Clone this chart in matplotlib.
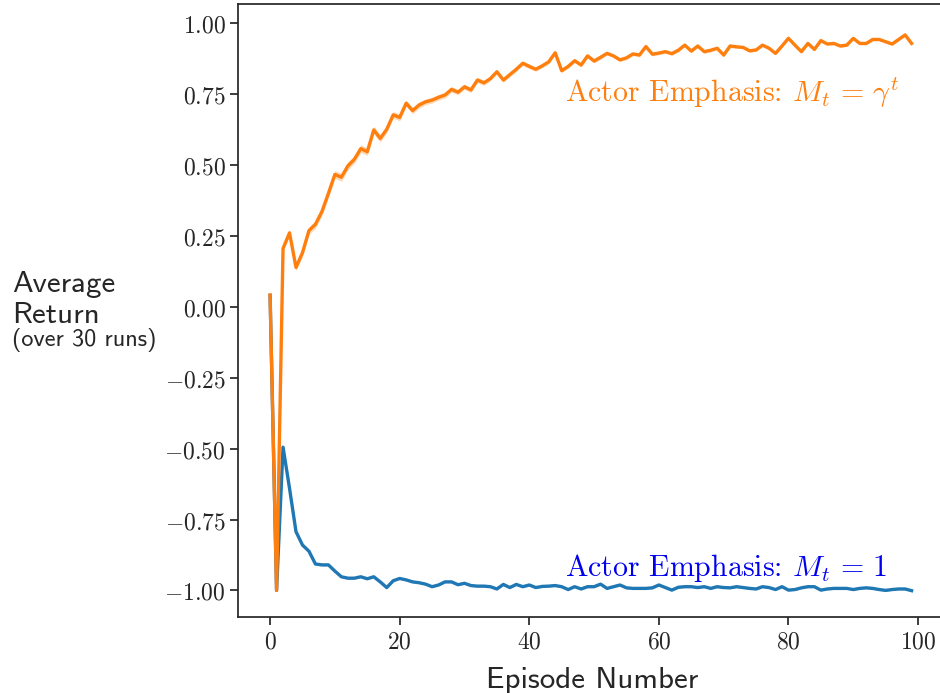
import numpy as np
import matplotlib
matplotlib.use("Agg")
import matplotlib.pyplot as plt
from matplotlib.ticker import FuncFormatter

# mean return per episode, averaged over 30 runs
episodes = list(range(100))

gamma_t = [
    0.042, -1.000, 0.206, 0.261, 0.139, 0.191, 0.269, 0.291, 0.336, 0.400,
    0.467, 0.457, 0.497, 0.520, 0.558, 0.547, 0.624, 0.594, 0.626, 0.677,
    0.668, 0.718, 0.692, 0.712, 0.723, 0.729, 0.739, 0.747, 0.767, 0.757,
    0.776, 0.765, 0.800, 0.790, 0.805, 0.829, 0.800, 0.819, 0.838, 0.859,
    0.848, 0.838, 0.850, 0.864, 0.896, 0.833, 0.848, 0.868, 0.853, 0.885,
    0.867, 0.880, 0.894, 0.885, 0.871, 0.878, 0.892, 0.888, 0.918, 0.891,
    0.895, 0.900, 0.893, 0.905, 0.923, 0.902, 0.920, 0.900, 0.905, 0.912,
    0.888, 0.920, 0.917, 0.915, 0.903, 0.906, 0.923, 0.912, 0.894, 0.920,
    0.947, 0.923, 0.900, 0.929, 0.908, 0.939, 0.927, 0.929, 0.920, 0.923,
    0.947, 0.929, 0.929, 0.943, 0.943, 0.935, 0.927, 0.943, 0.959, 0.929,
]
gamma_t_err = [
    0.004, 0.002, 0.008, 0.010, 0.012, 0.012, 0.013, 0.014, 0.014, 0.014,
    0.014, 0.014, 0.014, 0.013, 0.014, 0.013, 0.013, 0.013, 0.012, 0.012,
    0.012, 0.011, 0.011, 0.011, 0.010, 0.010, 0.010, 0.010, 0.010, 0.009,
    0.009, 0.009, 0.009, 0.009, 0.008, 0.008, 0.008, 0.008, 0.008, 0.008,
    0.008, 0.007, 0.007, 0.007, 0.007, 0.007, 0.007, 0.007, 0.007, 0.007,
    0.007, 0.007, 0.006, 0.006, 0.006, 0.006, 0.006, 0.006, 0.006, 0.006,
    0.006, 0.006, 0.006, 0.006, 0.006, 0.006, 0.006, 0.006, 0.006, 0.006,
    0.006, 0.006, 0.005, 0.005, 0.005, 0.005, 0.005, 0.005, 0.005, 0.005,
    0.005, 0.005, 0.005, 0.005, 0.005, 0.005, 0.005, 0.005, 0.005, 0.005,
    0.005, 0.005, 0.005, 0.005, 0.005, 0.005, 0.005, 0.005, 0.005, 0.005,
]

ones = [
    0.040, -1.000, -0.495, -0.640, -0.793, -0.840, -0.862, -0.907, -0.910, -0.910,
    -0.932, -0.952, -0.957, -0.957, -0.952, -0.959, -0.952, -0.970, -0.990, -0.966,
    -0.958, -0.963, -0.970, -0.973, -0.978, -0.987, -0.981, -0.970, -0.970, -0.980,
    -0.975, -0.983, -0.985, -0.985, -0.987, -0.995, -0.979, -0.990, -0.979, -0.987,
    -0.981, -0.990, -0.986, -0.985, -0.983, -0.987, -0.997, -0.987, -0.995, -0.987,
    -0.987, -0.978, -0.993, -0.987, -0.981, -0.991, -0.993, -0.993, -0.993, -0.991,
    -0.981, -0.990, -0.999, -0.989, -0.987, -0.987, -0.990, -0.987, -0.993, -0.987,
    -0.990, -0.991, -0.987, -0.990, -0.993, -0.995, -0.987, -0.990, -0.997, -0.987,
    -0.999, -0.997, -0.991, -0.987, -0.987, -0.999, -0.995, -0.993, -0.993, -0.993,
    -0.997, -0.993, -0.991, -0.993, -0.997, -1.000, -0.997, -0.995, -0.995, -1.001,
]
ones_err = [
    0.004, 0.001, 0.006, 0.006, 0.005, 0.005, 0.004, 0.004, 0.004, 0.004,
    0.003, 0.003, 0.003, 0.003, 0.003, 0.003, 0.003, 0.003, 0.003, 0.003,
    0.003, 0.003, 0.003, 0.003, 0.003, 0.003, 0.003, 0.003, 0.003, 0.003,
    0.003, 0.003, 0.003, 0.003, 0.003, 0.003, 0.003, 0.003, 0.003, 0.003,
    0.003, 0.003, 0.003, 0.003, 0.003, 0.003, 0.003, 0.003, 0.003, 0.003,
    0.003, 0.003, 0.003, 0.003, 0.003, 0.003, 0.003, 0.003, 0.003, 0.003,
    0.003, 0.003, 0.003, 0.003, 0.003, 0.003, 0.003, 0.003, 0.003, 0.003,
    0.003, 0.003, 0.003, 0.003, 0.003, 0.003, 0.003, 0.003, 0.003, 0.003,
    0.003, 0.003, 0.003, 0.003, 0.003, 0.003, 0.003, 0.003, 0.003, 0.003,
    0.003, 0.003, 0.003, 0.003, 0.003, 0.003, 0.003, 0.003, 0.003, 0.003,
]

yticks = [-1.0, -0.75, -0.5, -0.25, 0.0, 0.25, 0.5, 0.75, 1.0]
xticks = [0, 20, 40, 60, 80, 100]

ink = "#262626"
plt.rcParams["mathtext.fontset"] = "cm"
plt.rcParams["text.color"] = ink
plt.rcParams["axes.edgecolor"] = ink
plt.rcParams["xtick.color"] = ink
plt.rcParams["ytick.color"] = ink

fig = plt.figure(figsize=(9.4, 6.93), dpi=100)
ax = fig.add_axes([0.2532, 0.1092, 0.7507, 0.8846])

x = np.array(episodes)
for mean, err, color in [(ones, ones_err, "#1f77b4"), (gamma_t, gamma_t_err, "#ff7f0e")]:
    mean = np.array(mean)
    err = np.array(err)
    ax.fill_between(x, mean - err, mean + err, color=color, alpha=0.3, linewidth=0)
    ax.plot(x, mean, color=color, linewidth=2.4)

ax.text(45.5, 0.724, r"Actor Emphasis: $M_t\,=\,\gamma^t$", family="cmr10",
        fontsize=21.5, color="#ff7f0e", ha="left", va="baseline")
ax.text(45.5, -0.951, r"Actor Emphasis: $M_t\,=\,1$", family="cmr10",
        fontsize=21.5, color="#0000ee", ha="left", va="baseline")

ax.set_xlim(-4.95, 103.95)
ax.set_ylim(-1.095, 1.067)
ax.set_xticks(xticks)
ax.set_yticks(yticks)
ax.xaxis.set_major_formatter(FuncFormatter(lambda v, p: f"${v:.0f}$"))
ax.yaxis.set_major_formatter(FuncFormatter(lambda v, p: f"${v:.2f}$"))
ax.tick_params(labelsize=17, length=5.5, width=1.25)
for side in ["left", "bottom", "top", "right"]:
    ax.spines[side].set_linewidth(1.25)

fig.text(486 / 940, 1 - 688 / 693, "Episode Number", family="cmss10", fontsize=22.3,
         ha="left", va="baseline")
fig.text(12 / 940, 1 - 291.7 / 693, "Average", family="cmss10", fontsize=22.3,
         ha="left", va="baseline")
fig.text(12 / 940, 1 - 322.7 / 693, "Return", family="cmss10", fontsize=22.3,
         ha="left", va="baseline")
fig.text(12 / 940, 1 - 346 / 693, "(over 30 runs)", family="cmss10", fontsize=17.5,
         ha="left", va="baseline")

fig.savefig("out.png", dpi=100)
